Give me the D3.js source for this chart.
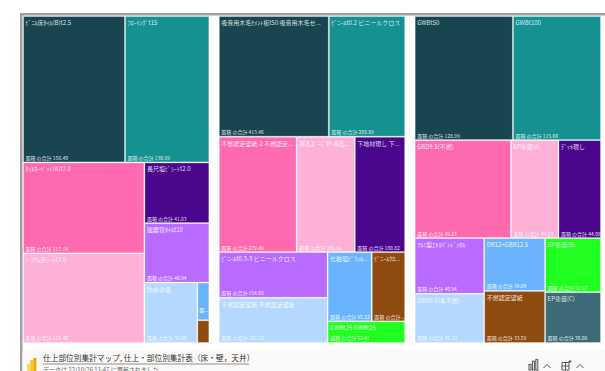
<!DOCTYPE html>
<html><head><meta charset="utf-8">
<script src="https://cdn.jsdelivr.net/npm/d3@7"></script>
<style>
html,body{margin:0;padding:0;background:#fff;overflow:hidden}
svg{display:block}
text{font-family:"Noto Sans CJK JP","Noto Sans",sans-serif}
</style></head><body>
<svg id="c" width="605" height="371"></svg>
<script>
// Treemap leaves per panel: name, value, colour index, value-label text
const panel1Names = ["ﾋﾞﾆﾙ床ﾀｲﾙ(B)t2.5","ﾌﾛｰﾘﾝｸﾞt15","ﾀｲﾙｶｰﾍﾟｯﾄ(A)t7.0","ﾘﾉﾘｳﾑ床ｼｰﾄt3.0","長尺塩ﾋﾞｼｰﾄt2.0","磁器質ﾀｲﾙt10","防塵塗装","面...","" ];
const panel1Values = [158.40,130.99,117.14,115.40,41.83,40.94,33.95,4.8,2.9];
const panel2Names = ["吸音用木毛ｾﾒﾝﾄ板t50 吸音用木毛セ...","ﾋﾞﾆｰﾙt0.2 ビニールクロス","不燃認定壁紙-2 不燃認定...","有孔ﾎﾞｰﾄﾞt9 有孔...","下地材現し 下...","ﾋﾞﾆｰﾙt0.3-3 ビニールクロス","不燃認定壁紙 不燃認定壁紙","化粧塩ﾋﾞﾌｨﾙ...","ﾋﾞﾆｰﾙｸﾛ...","GWBt25 GWBt25"];
const panel2Values = [413.46,286.89,279.49,208.92,180.82,154.69,153.12,95.22,72,52.41];
const panel3Names = ["GWBt50","GWBt100","GBD9.5(不燃)","EP塗装(A)","ﾃﾞｯｷ現し","ｱﾙﾐ製ｴｷｽﾊﾟﾝﾄﾞﾒﾀﾙ","DR12+GBR12.5","EP塗装(B)","GBD9.5(準不燃)","不燃認定壁紙","EP塗装(C)"];
const panel3Values = [128.99,115.60,99.83,49.23,44.08,40.94,34.04,31.97,36.19,33.59,30.08];
const panelColors = ["#18454f","#159191","#ff69b0","#ffb0d8","#4a068c","#b96bff","#b4d8ff","#6ab4ff","#8f4a10","#20ff20","#3c6a76"];
const panel1ColorIdx = [0,1,2,3,4,5,6,7,8];
const panel2ColorIdx = [0,1,2,3,4,5,6,7,8,9];
const panel3ColorIdx = [0,1,2,3,4,5,7,9,6,8,10];
const valueCaption = "面積 の合計 ";
const panel2BrownCaption = "面積 の合計 ...";
const footerTitle = "仕上部位別集計マップ, 仕上・部位別集計表（床・壁，天井）";
const footerSub = "データは 22/10/26 11:47 に更新されました";
const iconBarHeights = [7,11,13];

const leaf = (names, values, colors, i) => ({name:names[i], value:values[i], color:panelColors[colors[i]], i});
const L1 = i => leaf(panel1Names,panel1Values,panel1ColorIdx,i);
const L2 = i => leaf(panel2Names,panel2Values,panel2ColorIdx,i);
const L3 = i => leaf(panel3Names,panel3Values,panel3ColorIdx,i);
// Nesting (s = stacked, d = side by side) reproduces the squarified layout
const tree1 = {dir:"s",children:[
  {dir:"d",children:[L1(0),L1(1)]},
  {dir:"d",children:[
    {dir:"s",children:[L1(2),L1(3)]},
    {dir:"s",children:[L1(4),L1(5),{dir:"d",children:[L1(6),{dir:"s",children:[L1(7),L1(8)]}]}]}
  ]}
]};
const tree2 = {dir:"s",children:[
  {dir:"d",children:[L2(0),L2(1)]},
  {dir:"d",children:[L2(2),L2(3),L2(4)]},
  {dir:"d",children:[
    {dir:"s",children:[L2(5),L2(6)]},
    {dir:"s",children:[{dir:"d",children:[L2(7),L2(8)]},L2(9)]}
  ]}
]};
const tree3 = {dir:"s",children:[
  {dir:"d",children:[L3(0),L3(1)]},
  {dir:"d",children:[L3(2),L3(3),L3(4)]},
  {dir:"d",children:[
    {dir:"s",children:[L3(5),L3(8)]},
    {dir:"s",children:[L3(6),L3(9)]},
    {dir:"s",children:[L3(7),L3(10)]}
  ]}
]};

const svg = d3.select("#c");
const tile = (node,x0,y0,x1,y1)=> (node.data.dir==="s"?d3.treemapSlice:d3.treemapDice)(node,x0,y0,x1,y1);
const xBand = d3.scaleBand().domain([0,1,2]).range([23,601]).paddingInner(0.0485);
const plotTop=16, plotBottom=343;

// frame
svg.append("rect").attr("x",20).attr("y",13).attr("width",585).attr("height",2.5).attr("fill","#a0a0a0");
svg.append("rect").attr("x",20).attr("y",13).attr("width",2.5).attr("height",358).attr("fill","#a0a0a0");
// footer
svg.append("rect").attr("x",22.5).attr("y",350).attr("width",583).attr("height",21).attr("fill","#faf9f8");

[tree1,tree2,tree3].forEach((t,pi)=>{
  const root=d3.hierarchy(t).sum(d=>d.value||0);
  d3.treemap().tile(tile).size([xBand.bandwidth(),plotBottom-plotTop])(root);
  const g=svg.append("g").attr("transform",`translate(${xBand(pi)},${plotTop})`);
  const cells=g.selectAll("g").data(root.leaves()).join("g")
    .attr("transform",d=>`translate(${d.x0},${d.y0})`);
  cells.append("rect")
    .attr("x",.5).attr("y",.5)
    .attr("width",d=>Math.max(0,d.x1-d.x0-1)).attr("height",d=>Math.max(0,d.y1-d.y0-1))
    .attr("fill",d=>d.data.color)
    .attr("stroke","#fff").attr("stroke-opacity",.3);
  cells.append("text").attr("x",2.5).attr("y",9)
    .attr("font-size",6).attr("fill","#fff").attr("fill-opacity",.85)
    .text(d=>(d.x1-d.x0)>20?d.data.name:"");
  cells.append("text").attr("x",2.5).attr("y",d=>d.y1-d.y0-2.5)
    .attr("font-size",5).attr("fill","#fff").attr("fill-opacity",.9)
    .text(d=>{
      const w=d.x1-d.x0;
      if(w<20) return "";
      if(pi===1&&d.data.i===8) return panel2BrownCaption;
      return valueCaption+d.data.value.toFixed(2);
    });
  // the narrow blue cell in panel 1 shows a clipped caption at its foot
  cells.filter(d=>pi===0&&d.data.i===7).append("text")
    .attr("x",2).attr("y",d=>d.y1-d.y0-8).attr("font-size",5).attr("fill","#fff").text(d=>d.data.name);
});
svg.append("text").attr("x",43).attr("y",361).attr("font-size",7.7).attr("fill","#333").text(footerTitle);
svg.append("line").attr("x1",43).attr("x2",249).attr("y1",364).attr("y2",364).attr("stroke","#666").attr("stroke-width",.7);
svg.append("text").attr("x",43).attr("y",372).attr("font-size",6).attr("fill","#666").text(footerSub);
// Power BI icon
const iconX=d3.scaleBand().domain([0,1,2]).range([27,36.5]).padding(0.05);
svg.selectAll("rect.pbi").data(iconBarHeights).join("rect").attr("class","pbi")
  .attr("x",(d,i)=>iconX(i)).attr("y",d=>371-d).attr("width",iconX.bandwidth()).attr("height",d=>d)
  .attr("fill",(d,i)=>["#f6d860","#f2c811","#e8a90c"][i]);
// toolbar icons
const ic=svg.append("g").attr("fill","none").attr("stroke","#555").attr("stroke-width",1);
iconBarHeights.forEach((h,i)=>ic.append("rect").attr("x",529+i*3.4).attr("y",370-h*.8).attr("width",2).attr("height",h*.8));
ic.append("path").attr("d","M543.5 368 L547 364.5 L550.5 368");
ic.append("path").attr("d","M562 362.5 H569 V370 H562 Z M562 366 H569 M565.5 362.5 V370 M570 360 V363 M568.5 361.5 H571.5");
ic.append("path").attr("d","M576.5 368 L580 364.5 L583.5 368");
</script>
</body></html>
